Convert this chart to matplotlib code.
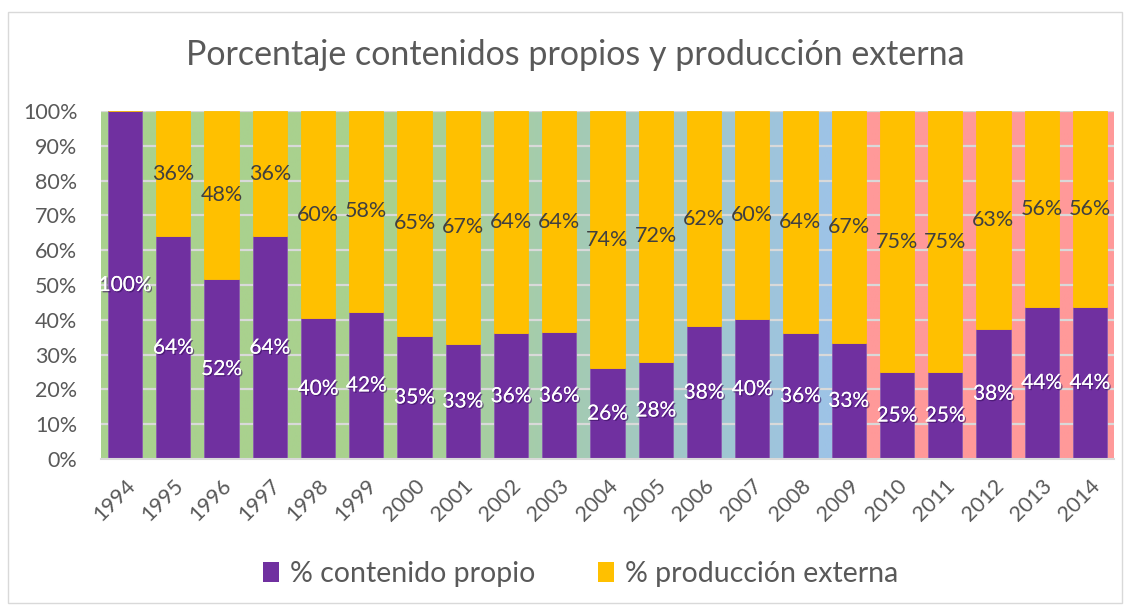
import numpy as np
import matplotlib
matplotlib.use("Agg")
import matplotlib.pyplot as plt
from matplotlib.patches import Rectangle, Patch
from matplotlib.colors import to_rgb
import matplotlib.patheffects as pe

years = ["1994", "1995", "1996", "1997", "1998", "1999", "2000", "2001", "2002", "2003",
         "2004", "2005", "2006", "2007", "2008", "2009", "2010", "2011", "2012", "2013", "2014"]
propio = [100.0, 64.0, 51.7, 64.0, 40.4, 42.3, 35.4, 33.1, 36.1, 36.4,
          26.1, 27.9, 38.2, 40.2, 36.2, 33.4, 25.0, 25.0, 37.5, 43.8, 43.8]
externo = [100.0 - p for p in propio]
series_names = ["% contenido propio", "% producción externa"]
title = "Porcentaje contenidos propios y producción externa"

C_PROPIO = "#7030A0"
C_EXT = "#FFC000"
TXT = "#595959"

plt.rcParams['font.family'] = ['Lato', 'DejaVu Sans']

fig = plt.figure(figsize=(11.3, 6.07), dpi=100)
ax = fig.add_axes([101/1130, 1 - 459/607, (1114-101)/1130, (459-111)/607])

n = len(years)
x = np.arange(n)

# background gradient (green -> blue, then pink)
green = np.array(to_rgb("#A9D18E"))
blue = np.array(to_rgb("#9DC3E6"))
pink = np.array(to_rgb("#FF9999"))
xs = np.linspace(-0.5, n - 0.5, 2000)
cols = []
for xv in xs:
    k = xv + 0.5
    if k >= 15.5:
        cols.append(pink)
    elif k <= 6:
        cols.append(green)
    elif k >= 15:
        cols.append(blue)
    else:
        t = (k - 6) / 9.0
        cols.append(green * (1 - t) + blue * t)
img = np.array(cols)[None, :, :]
ax.imshow(img, extent=[-0.5, n - 0.5, 0, 100], aspect='auto', zorder=0, interpolation='bilinear')

ax.set_xlim(-0.5, n - 0.5)
ax.set_ylim(0, 100)

for yv in range(10, 101, 10):
    ax.axhline(yv, color="#D9D9D9", lw=1.6, zorder=1)

w = 0.71
ax.bar(x, propio, width=w, color=C_PROPIO, edgecolor="#8A5BB0", linewidth=0.6, zorder=2)
ax.bar(x, externo, width=w, bottom=propio, color=C_EXT, edgecolor="#FFC000", linewidth=0.6, zorder=2)

def fmt(v):
    return f"{int(v + 0.5)}%"

shadow = [pe.withSimplePatchShadow(offset=(1, -1), shadow_rgbFace="#3A1060", alpha=0.6), pe.Normal()]
for i in range(n):
    p = propio[i]
    e = externo[i]
    if p > 0:
        ax.text(x[i], p / 2, fmt(p), ha='center', va='center', color='white', fontsize=15,
                zorder=4, path_effects=shadow)
    if e > 0.5:
        ax.text(x[i], p + e / 2, fmt(e), ha='center', va='center', color="#404040", fontsize=15.5,
                zorder=4)

ax.set_yticks(range(0, 101, 10))
ax.set_yticklabels([f"{v}%" for v in range(0, 101, 10)])
ax.set_xticks(x)
ax.set_xticklabels(years, rotation=45, ha='right', rotation_mode='anchor')
ax.tick_params(axis='both', length=0, labelsize=15.5, labelcolor=TXT)
ax.tick_params(axis='y', pad=17)
ax.tick_params(axis='x', pad=12)
for s in ['top', 'right', 'left']:
    ax.spines[s].set_visible(False)
ax.spines['bottom'].set_color("#D9D9D9")
ax.spines['bottom'].set_linewidth(1.5)
ax.spines['bottom'].set_zorder(3)

fig.text(575/1130, 1 - 55/607, title, ha='center', va='center', fontsize=24.5, color=TXT)

handles = [Patch(facecolor=C_PROPIO), Patch(facecolor=C_EXT)]
fig.legend(handles, series_names, loc='center', bbox_to_anchor=(581/1130, 1 - 574/607),
           ncol=2, frameon=False, fontsize=20.5, handlelength=0.55, handleheight=0.65,
           handletextpad=0.4, columnspacing=2.2, labelcolor=TXT)

fig.patches.append(Rectangle((8/1130, 1 - 603/607), (1122-8)/1130, (603-12)/607,
                             transform=fig.transFigure, fill=False, edgecolor="#D9D9D9", lw=1))

fig.savefig("out.png", dpi=100)
